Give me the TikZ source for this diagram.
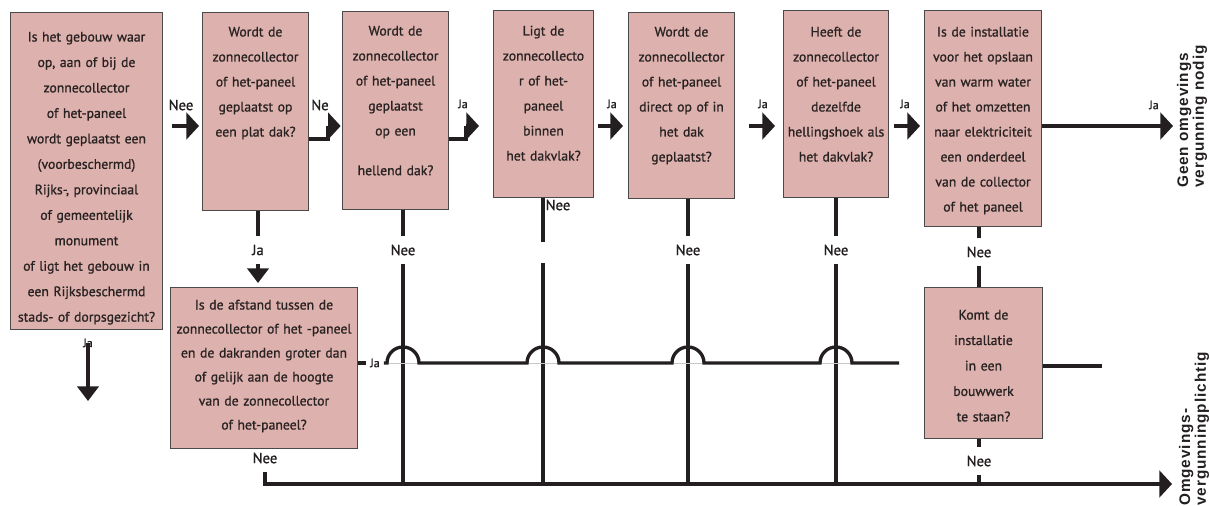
\documentclass[tikz,border=0pt]{standalone}
\usepackage{amsmath}
\usepackage{fontspec}
\setmainfont{PT Sans}
\newfontfamily\boxfont[FakeBold=1]{PT Sans}
\newfontfamily\sidefont[LetterSpace=6]{Liberation Sans}
\usepackage{tikz}
\usetikzlibrary{arrows.meta}

\begin{document}
\begin{tikzpicture}[x=0.75pt,y=0.75pt,yscale=-1,xscale=1,
    qbox/.style={draw={rgb, 255:red, 74; green, 74; blue, 74 }, line width=0.75pt, fill={rgb, 255:red, 221; green, 177; blue, 173 }, text={rgb, 255:red, 40; green, 34; blue, 34 }, inner sep=0pt, anchor=north west, align=center, font=\boxfont\fontsize{10.3}{18.75}\selectfont},
    conn/.style={draw={rgb, 255:red, 35; green, 31; blue, 32 }, line width=2.5pt},
    harr/.style={conn, -{Triangle[length=9.5pt,width=20pt]}},
    varr/.style={conn, -{Triangle[length=11pt,width=16pt]}},
    nee/.style={text={rgb, 255:red, 35; green, 31; blue, 32 }, inner sep=1pt, minimum height=21pt, font=\boxfont\fontsize{11}{12}\selectfont},
    ja/.style={text={rgb, 255:red, 35; green, 31; blue, 32 }, inner sep=1pt, font=\boxfont\fontsize{9}{10}\selectfont},
    side/.style={text={rgb, 255:red, 35; green, 31; blue, 32 }, inner sep=0pt, anchor=west, rotate=90, align=left, font=\sidefont\bfseries\fontsize{11.5}{10.5}\selectfont}
  ]
        \useasboundingbox (0,0) rectangle (1210,506);

        %Shape: Rectangle [q1]
        \draw (10,12) node [qbox, text width=114pt, text height=21.75pt, text depth=216pt, font=\boxfont\fontsize{10.3}{19.1}\selectfont] (q1) {Is het gebouw waar\\op, aan of bij de\\zonnecollector\\of het-paneel\\wordt geplaatst een\\(voorbeschermd)\\Rijks-, provinciaal\\of gemeentelijk\\monument\\of ligt het gebouw in\\een Rijksbeschermd\\stads- of dorpsgezicht?};
        %Shape: Rectangle [q2]
        \draw (202,12) node [qbox, text width=79.5pt, text height=18pt, text depth=130.5pt] (q2) {Wordt de\\zonnecollector\\of het-paneel\\geplaatst op\\een plat dak?};
        %Shape: Rectangle [q3]
        \draw (342,11) node [qbox, text width=79.5pt, text height=18pt, text depth=130.5pt] (q3) {Wordt de\\zonnecollector\\of het-paneel\\geplaatst\\op een\\[11pt]hellend dak?};
        %Shape: Rectangle [q4]
        \draw (493,10) node [qbox, text width=75pt, text height=18.75pt, text depth=121.5pt] (q4) {Ligt de\\zonnecollecto\\r of het-\\paneel\\binnen\\het dakvlak?};
        %Shape: Rectangle [q5]
        \draw (628,12) node [qbox, text width=79.5pt, text height=18pt, text depth=121.5pt] (q5) {Wordt de\\zonnecollector\\of het-paneel\\direct op of in\\het dak\\geplaatst?};
        %Shape: Rectangle [q6]
        \draw (783,10) node [qbox, text width=78.75pt, text height=19.5pt, text depth=120.75pt] (q6) {Heeft de\\zonnecollector\\of het-paneel\\dezelfde\\hellingshoek als\\het dakvlak?};
        %Shape: Rectangle [q7]
        \draw (924,10) node [qbox, text width=87.75pt, text height=19.5pt, text depth=142.5pt] (q7) {Is de installatie\\voor het opslaan\\van warm water\\of het omzetten\\naar elektriciteit\\een onderdeel\\van de collector\\of het paneel};
        %Shape: Rectangle [q8]
        \draw (170,287) node [qbox, text width=140.25pt, text height=16.5pt, text depth=104.25pt, font=\boxfont\fontsize{10.3}{18}\selectfont] (q8) {Is de afstand tussen de\\zonnecollector of het -paneel\\en de dakranden groter dan\\of gelijk aan de hoogte\\van de zonnecollector\\of het-paneel?};
        %Shape: Rectangle [q9]
        \draw (924,287) node [qbox, text width=88.5pt, text height=24pt, text depth=89.25pt, font=\boxfont\fontsize{10.3}{19.1}\selectfont] (q9) {Komt de\\installatie\\in een\\bouwwerk\\te staan?};

        % Coordinates
        \coordinate (r1) at (0,126);
        \coordinate (r2) at (0,139);
        \coordinate (k23) at (328,126);
        \coordinate (k34) at (466,126);
        \coordinate (t34) at (479,126);
        \coordinate (geen) at (1173,126);
        \coordinate (e1) at (88,401);
        \coordinate (g4) at (543,242);
        \coordinate (h4) at (543,263);
        \coordinate (hop1) at (387,363);
        \coordinate (hop2) at (527,363);
        \coordinate (hop3) at (672,363);
        \coordinate (hop4) at (820,363);
        \coordinate (e8) at (899,363);
        \coordinate (e9) at (1102,366);
        \coordinate (omg) at (1172,484);

        % Text Node
        \draw (181,105) node [nee] (l12) {Nee};
        % Text Node
        \draw (320,105) node [nee] (l23) {Ne};
        % Text Node
        \draw (463,104) node [ja] (l34) {Ja};
        % Text Node
        \draw (612,104) node [ja] (l45) {Ja};
        % Text Node
        \draw (763,104) node [ja] (l56) {Ja};
        % Text Node
        \draw (905,104) node [ja] (l67) {Ja};
        % Text Node
        \draw (1154,105) node [ja] (l7g) {Ja};
        % Text Node
        \draw (88,343) node [ja] (l1) {Ja};
        % Text Node
        \draw (258,250) node [nee] (l2) {Ja};
        % Text Node
        \draw (403,250) node [nee] (n3) {Nee};
        % Text Node
        \draw (558,205) node [nee] (n4) {Nee};
        % Text Node
        \draw (688,250) node [nee] (n5) {Nee};
        % Text Node
        \draw (836,250) node [nee] (n6) {Nee};
        % Text Node
        \draw (979,252) node [nee] (n7) {Nee};
        % Text Node
        \draw (979,461) node [nee] (n9) {Nee};
        % Text Node
        \draw (265,458) node [nee] (n8) {Nee};
        % Text Node
        \draw (375,363) node [ja, inner xsep=3pt] (l8) {Ja};
        % Text Node
        \draw (1192,188) node [side] (tgeen) {Geen omgevings\\vergunning nodig};
        % Text Node
        \draw (1194,506) node [side] (tomg) {Omgevings-\\vergunningplichtig};

        %Straight Lines: top row
        \draw [harr, shorten <=6.75pt, shorten >=2.25pt] (q1.east |- r1) -- (q2.west |- r1);
        \draw [conn] (q2.east |- r2) -| (k23);
        \draw [harr, shorten >=1pt] (k23) -- (q3.west |- r1);
        \draw [conn] (q3.east |- r2) -| (k34);
        \draw [harr] (k34) -- (t34);
        \draw [harr, shorten <=3pt, shorten >=3.75pt] (q4.east |- r1) -- (q5.west |- r1);
        \draw [harr, shorten <=10.5pt, shorten >=6pt] (q5.east |- r1) -- (q6.west |- r1);
        \draw [harr, shorten <=3.75pt, shorten >=3pt] (q6.east |- r1) -- (q7.west |- r1);
        \draw [harr] (q7.east |- r1) -- (geen);

        %Straight Lines: downwards
        \draw [varr] (l1.center) -- (e1);
        \draw [conn] (q2.south -| l2) -- (l2.north);
        \draw [varr, shorten >=3pt] (l2.south) -- (q8.north -| l2);
        \draw [conn] (q3.south -| n3) -- (n3.north);
        \draw [conn] (n3.south) -- (n3 |- omg);
        \draw [conn] (q4.south -| g4) -- (g4);
        \draw [conn] (h4) -- (h4 |- omg);
        \draw [conn] (q5.south -| n5) -- (n5.north);
        \draw [conn] (n5.south) -- (n5 |- omg);
        \draw [conn] (q6.south -| n6) -- (n6.north);
        \draw [conn] (n6.south) -- (n6 |- omg);
        \draw [conn] (q7.south -| n7) -- (n7.north);
        \draw [conn] (n7.south) -- (q9.north -| n7);
        \draw [conn] (q9.south -| n9) -- (n9.north);
        \draw [conn] (n9.south) -- (n9 |- omg);
        \draw [conn] (q9.east |- e9) -- (e9);

        %Straight Lines: Ja line with hops
        \draw [draw={rgb, 255:red, 200; green, 200; blue, 200 }, line width=0.5pt] (hop1) -- (e8);
        \draw [conn] (q8.east |- l8) -- (l8.west);
        \draw [conn] (l8.east) -- (hop1) arc [start angle=180, end angle=360, radius=16] -- (hop2) arc [start angle=180, end angle=360, radius=16] -- (hop3) arc [start angle=180, end angle=360, radius=16] -- (hop4) arc [start angle=180, end angle=360, radius=16] -- (e8);

        %Straight Lines: Nee line to the end
        \draw [harr] (n8.south) |- (omg);

\end{tikzpicture}
\end{document}
